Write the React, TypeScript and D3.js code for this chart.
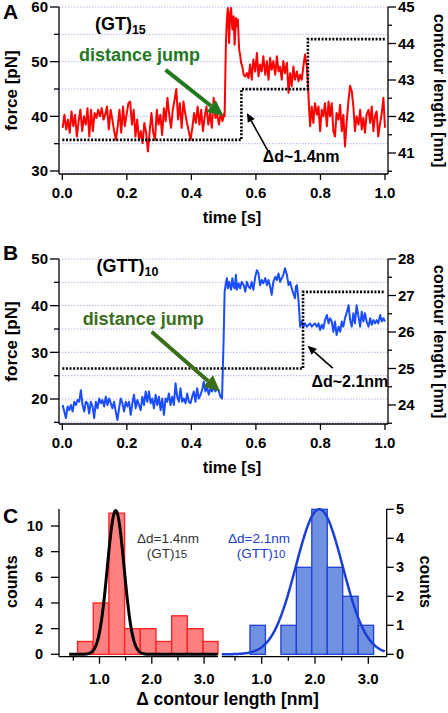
import React from 'react';
import * as d3 from 'd3';

const FONT = '"Liberation Sans", Arial, Helvetica, sans-serif';
const GRID = '#b4b4f0';

// ---------- shared ----------
const timeTicks = [0, 0.2, 0.4, 0.6, 0.8, 1.0];

// ---------- panel A : (GT)15 ----------
const forceTicksA = [30, 40, 50, 60];
const forceMinorA = [35, 45, 55];
const forceGridA = [30, 35, 40, 45, 50, 55, 60];
const contourTicksA = [41, 42, 43, 44, 45];
const contourMinorA = [40.5, 41.5, 42.5, 43.5, 44.5];
const forceA1Span = [0.001, 0.502];
const forceA1 = [
  37.9, 40.3, 37.6, 39.4, 37.0, 40.9, 38.2, 40.3, 36.3, 39.1,
  41.2, 37.3, 40.0, 38.5, 41.5, 36.3, 41.2, 37.3, 40.6, 39.7,
  41.2, 40.0, 41.5, 39.4, 40.3, 41.8, 37.6, 41.2, 39.4, 37.3,
  35.7, 38.2, 41.2, 37.0, 41.8, 38.2, 40.3, 42.4, 42.7, 38.5,
  41.2, 36.3, 39.4, 35.7, 37.3, 35.1, 38.8, 37.0, 33.6, 37.3,
  40.6, 37.0, 35.7, 41.2, 38.5, 40.3, 36.6, 41.5, 39.1, 43.4,
  40.3, 37.9, 41.2, 43.0, 45.0, 39.4, 42.4, 37.9, 42.7, 40.6,
  38.8, 37.3, 35.7, 37.9, 40.6, 38.8, 41.8, 38.5, 41.2, 37.3,
  40.0, 41.8, 38.5, 40.6, 37.9, 43.4, 39.7, 40.3, 38.5, 40.6,
  39.1, 40.6,
];
const forceA2: [number, number][] = [
  [0.503, 40.0], [0.507, 53.4], [0.510, 57.7], [0.513, 59.8], [0.517, 53.4], [0.520, 58.9], [0.523, 59.8],
  [0.527, 55.9], [0.531, 58.3], [0.534, 53.1], [0.538, 58.0], [0.541, 56.5], [0.544, 57.7], [0.548, 52.2],
  [0.551, 51.3], [0.554, 49.8], [0.558, 49.1], [0.562, 47.6], [0.567, 47.3], [0.572, 47.9], [0.577, 47.0],
  [0.582, 49.5], [0.587, 46.7], [0.592, 50.4], [0.598, 48.2], [0.603, 51.6], [0.608, 47.3], [0.613, 49.5],
  [0.618, 48.2], [0.623, 51.0], [0.629, 47.6], [0.634, 50.1], [0.639, 46.7], [0.644, 50.7], [0.649, 48.5],
  [0.654, 50.1], [0.660, 47.6], [0.665, 51.0], [0.670, 48.2], [0.675, 49.1], [0.680, 46.7], [0.685, 50.1],
  [0.690, 47.9], [0.696, 49.8], [0.701, 44.3], [0.706, 47.9], [0.711, 45.5], [0.716, 49.1], [0.721, 46.7],
  [0.727, 48.2], [0.732, 46.4], [0.737, 47.6], [0.742, 46.7], [0.747, 49.1], [0.752, 51.3], [0.758, 49.1],
  [0.761, 46.1], [0.765, 41.2], [0.768, 38.2], [0.773, 41.8], [0.778, 38.8], [0.783, 42.4], [0.789, 40.3],
  [0.794, 41.8], [0.799, 37.3], [0.804, 41.2], [0.809, 40.0], [0.814, 42.4], [0.820, 38.2], [0.825, 42.7],
  [0.830, 40.0], [0.835, 42.4], [0.840, 37.3], [0.845, 36.3], [0.850, 40.6], [0.856, 39.4], [0.861, 42.1],
  [0.866, 37.3], [0.871, 40.3], [0.876, 34.5], [0.881, 38.8], [0.887, 43.0], [0.892, 45.6], [0.897, 44.6],
  [0.902, 41.8], [0.907, 37.3], [0.912, 40.0], [0.918, 38.5], [0.923, 41.2], [0.928, 37.6], [0.933, 39.7],
  [0.938, 37.0], [0.943, 40.3], [0.949, 41.2], [0.954, 38.8], [0.959, 41.8], [0.964, 37.3], [0.969, 40.0],
  [0.974, 40.9], [0.979, 36.3], [0.985, 38.8], [0.990, 40.6], [0.995, 43.4], [1.000, 37.9],
];
const contourA: [number, number][] = [
  [0, 41.36], [0.555, 41.36], [0.555, 42.75], [0.761, 42.75], [0.761, 44.12], [1.0, 44.12],
];

// ---------- panel B : (GTT)10 ----------
const forceTicksB = [20, 30, 40, 50];
const forceMinorB = [15, 25, 35, 45];
const forceGridB = [15, 20, 25, 30, 35, 40, 45, 50];
const contourTicksB = [24, 25, 26, 27, 28];
const contourMinorB = [23.5, 24.5, 25.5, 26.5, 27.5];
const forceB1Span = [0.001, 0.495];
const forceB1 = [
  18.7, 17.3, 15.9, 18.4, 17.6, 18.7, 17.3, 19.4, 18.7, 19.8,
  19.4, 21.9, 18.7, 17.3, 19.4, 19.1, 16.9, 19.4, 18.4, 15.9,
  19.4, 18.0, 20.1, 19.1, 19.8, 18.4, 20.5, 18.7, 20.1, 19.1,
  18.0, 19.4, 17.3, 15.5, 18.0, 20.1, 19.1, 17.3, 19.4, 18.4,
  19.4, 16.6, 19.1, 20.9, 18.0, 19.8, 18.7, 17.6, 20.5, 18.7,
  21.6, 19.4, 21.6, 19.1, 20.1, 18.0, 20.9, 18.7, 20.5, 17.6,
  20.1, 16.6, 20.1, 19.4, 21.2, 18.7, 20.5, 18.7, 23.4, 20.5,
  19.4, 22.3, 19.4, 20.1, 19.1, 21.2, 19.4, 19.1, 20.5, 21.6,
  19.4, 22.3, 20.1, 20.9, 21.9, 23.7, 21.6, 22.6, 20.9, 22.3,
  21.6, 22.6, 21.6, 22.3, 21.9, 20.5, 20.1,
];
const forceB2: [number, number][] = [
  [0.500, 33.0], [0.503, 43.0], [0.507, 44.8], [0.510, 45.9], [0.513, 43.7], [0.517, 45.1], [0.520, 44.1],
  [0.523, 43.4], [0.527, 45.9], [0.531, 44.1], [0.534, 43.7], [0.538, 46.6], [0.541, 43.4], [0.546, 44.8],
  [0.551, 43.7], [0.556, 45.1], [0.562, 44.4], [0.567, 43.0], [0.572, 45.1], [0.577, 44.1], [0.582, 43.7],
  [0.587, 45.1], [0.592, 43.4], [0.598, 46.2], [0.603, 47.6], [0.608, 46.9], [0.613, 44.4], [0.618, 45.5],
  [0.623, 44.8], [0.629, 45.9], [0.634, 44.4], [0.639, 45.5], [0.644, 44.1], [0.649, 42.3], [0.654, 45.1],
  [0.660, 46.2], [0.665, 45.5], [0.670, 46.9], [0.675, 45.1], [0.680, 45.9], [0.685, 46.6], [0.690, 48.0],
  [0.696, 46.6], [0.701, 44.4], [0.706, 45.1], [0.711, 43.7], [0.716, 42.6], [0.721, 41.6], [0.724, 44.1],
  [0.727, 44.4], [0.732, 41.2], [0.735, 38.0], [0.737, 35.5], [0.742, 36.6], [0.747, 35.5], [0.752, 36.2],
  [0.758, 35.5], [0.763, 35.9], [0.768, 36.2], [0.773, 35.5], [0.778, 35.9], [0.783, 36.2], [0.789, 35.5],
  [0.794, 36.2], [0.799, 34.8], [0.804, 35.9], [0.809, 35.1], [0.814, 36.9], [0.820, 38.0], [0.825, 36.2],
  [0.830, 37.3], [0.835, 36.6], [0.840, 34.4], [0.845, 36.6], [0.850, 33.7], [0.856, 35.5], [0.861, 34.4],
  [0.866, 36.6], [0.871, 35.5], [0.876, 37.3], [0.881, 38.4], [0.887, 40.1], [0.892, 36.9], [0.897, 35.5],
  [0.902, 38.4], [0.907, 36.2], [0.912, 40.1], [0.918, 37.6], [0.923, 35.5], [0.928, 38.7], [0.933, 36.6],
  [0.938, 38.4], [0.943, 36.6], [0.949, 35.5], [0.954, 37.3], [0.959, 35.9], [0.964, 36.9], [0.969, 36.2],
  [0.974, 36.9], [0.979, 36.2], [0.985, 38.0], [0.990, 36.6], [0.995, 37.3], [1.000, 36.6],
];
const contourB: [number, number][] = [
  [0, 25.0], [0.746, 25.0], [0.746, 27.1], [1.0, 27.1],
];

// ---------- panel C : histograms ----------
const redBinStart = 0.58;
const redBinWidth = 0.3;
const redCounts = [1, 4, 11, 2, 2, 1, 3, 2, 1];
const blueBinStart = 0.78;
const blueBinWidth = 0.29;
const blueCounts = [1, 0, 1, 3, 5, 3, 2, 1];
const redFit = { mean: 1.31, sigma: 0.16, amp: 11.2, from: 0.42, to: 3.26 };
const blueFit = { mean: 2.08, sigma: 0.44, amp: 5.0, from: 0.25, to: 3.31 };
const countTicksLeft = [0, 2, 4, 6, 8, 10];
const countTicksRight = [0, 1, 2, 3, 4, 5];
const deltaMajor = [1.0, 2.0, 3.0];
const deltaMinor = [0.5, 1.5, 2.5];

// ---------- helpers ----------
function Arrow({ x1, y1, x2, y2, color, width, headLen, headW }: any) {
  const ang = Math.atan2(y2 - y1, x2 - x1);
  const bx = x2 - headLen * Math.cos(ang);
  const by = y2 - headLen * Math.sin(ang);
  const px = (-Math.sin(ang) * headW) / 2;
  const py = (Math.cos(ang) * headW) / 2;
  return (
    <g>
      <line x1={x1} y1={y1} x2={bx} y2={by} stroke={color} strokeWidth={width} />
      <polygon points={`${x2},${y2} ${bx + px},${by + py} ${bx - px},${by - py}`} fill={color} />
    </g>
  );
}

function TracePanel(p: any) {
  const x = d3.scaleLinear().domain([0, 1]).range([62.3, 385]);
  const yF = d3.scaleLinear().domain(p.fDom).range(p.fRange);
  const yC = d3.scaleLinear().domain(p.cDom).range(p.cRange);
  const axL = 59, axR = 388;
  const top = p.axTop, bot = p.axBottom;
  const n = p.seg1.length;
  const seg1 = p.seg1.map((f: number, i: number) => [
    p.seg1Span[0] + ((p.seg1Span[1] - p.seg1Span[0]) * i) / (n - 1), f,
  ]);
  const pts = [...seg1, ...p.seg2];
  const line = d3.line<any>().x((d) => x(d[0])).y((d) => yF(d[1]));
  const cline = d3.line<any>().x((d) => x(d[0])).y((d) => yC(d[1]));
  const tickF = d3.format('.1f');
  return (
    <g>
      {p.grid.map((g: number) => (
        <line key={'g' + g} x1={axL} x2={axR} y1={yF(g)} y2={yF(g)} stroke={GRID} strokeWidth={1} strokeDasharray="1.5,1.5" />
      ))}
      <path d={line(pts) || ''} fill="none" stroke={p.color} strokeWidth={2} strokeLinejoin="round" />
      <path d={cline(p.contour) || ''} fill="none" stroke="#000" strokeWidth={2.6} strokeDasharray="2,1.6" />
      {/* axes */}
      <line x1={axL} x2={axL} y1={top} y2={bot} stroke="#000" strokeWidth={1.3} />
      <line x1={axR} x2={axR} y1={top} y2={bot} stroke="#000" strokeWidth={1.3} />
      <line x1={axL} x2={axR} y1={bot} y2={bot} stroke="#000" strokeWidth={1.3} />
      {p.fTicks.map((t: number) => (
        <g key={'ft' + t}>
          <line x1={axL - 9} x2={axL} y1={yF(t)} y2={yF(t)} stroke="#000" strokeWidth={1.3} />
          <text x={48} y={yF(t) + 5.3} textAnchor="end" fontSize={15} fontWeight="bold" fontFamily={FONT}>{t}</text>
        </g>
      ))}
      {p.fMinor.map((t: number) => (
        <line key={'fm' + t} x1={axL - 5} x2={axL} y1={yF(t)} y2={yF(t)} stroke="#000" strokeWidth={1.3} />
      ))}
      {p.cTicks.map((t: number) => (
        <g key={'ct' + t}>
          <line x1={axR} x2={axR + 8} y1={yC(t)} y2={yC(t)} stroke="#000" strokeWidth={1.3} />
          <text x={398} y={yC(t) + 5.3} textAnchor="start" fontSize={15} fontWeight="bold" fontFamily={FONT}>{t}</text>
        </g>
      ))}
      {p.cMinor.filter((t: number) => yC(t) <= bot).map((t: number) => (
        <line key={'cm' + t} x1={axR} x2={axR + 4} y1={yC(t)} y2={yC(t)} stroke="#000" strokeWidth={1.3} />
      ))}
      {timeTicks.map((t) => (
        <g key={'tt' + t}>
          <line x1={x(t)} x2={x(t)} y1={bot} y2={bot + 6} stroke="#000" strokeWidth={1.3} />
          <text x={x(t)} y={bot + 24} textAnchor="middle" fontSize={15} fontWeight="bold" fontFamily={FONT}>{tickF(t)}</text>
        </g>
      ))}
      <text x={232} y={bot + 49} textAnchor="middle" fontSize={16.5} fontWeight="bold" fontFamily={FONT}>time [s]</text>
      <text transform={`translate(17,${(top + bot) / 2}) rotate(-90)`} textAnchor="middle" fontSize={17} fontWeight="bold" fontFamily={FONT}>force [pN]</text>
      <text transform={`translate(434,${(top + bot) / 2}) rotate(90)`} textAnchor="middle" fontSize={16.3} fontWeight="bold" fontFamily={FONT}>contour length [nm]</text>
      <text x={3} y={p.letterY} fontSize={21} fontWeight="bold" fontFamily={FONT}>{p.letter}</text>
      <text x={x(p.title.t)} y={yF(p.title.f)} fontSize={18} fontWeight="bold" fontFamily={FONT}>
        {p.title.main}
        <tspan fontSize={12.5} dy={4}>{p.title.sub}</tspan>
      </text>
      <text x={x(p.jump.t)} y={yF(p.jump.f)} fontSize={18} fontWeight="bold" fontFamily={FONT} fill={p.green}>distance jump</text>
      <Arrow x1={x(p.garrow[0])} y1={yF(p.garrow[1])} x2={x(p.garrow[2])} y2={yF(p.garrow[3])} color={p.green} width={4} headLen={16} headW={15} />
      <Arrow x1={x(p.barrow[0])} y1={yF(p.barrow[1])} x2={x(p.barrow[2])} y2={yF(p.barrow[3])} color="#000" width={1.6} headLen={9} headW={8} />
      <text x={x(p.delta.t)} y={yF(p.delta.f)} fontSize={16} fontWeight="bold" fontFamily={FONT}>{p.delta.label}</text>
    </g>
  );
}

function HistPanel() {
  const xL = d3.scaleLinear().domain([1, 2]).range([99.5, 151.8]);
  const xR = d3.scaleLinear().domain([1, 2]).range([261.7, 315]);
  const yL = d3.scaleLinear().domain([0, 10]).range([654.3, 526]);
  const yR = d3.scaleLinear().domain([0, 5]).range([654.3, 509.3]);
  const top = 509, bot = 656.7;
  const lLeft = 59, lRight = 218, rLeft = 221.7, rRight = 386.7;
  const gauss = (f: any) => (v: number) => f.amp * Math.exp(-((v - f.mean) ** 2) / (2 * f.sigma ** 2));
  const redPts = d3.range(redFit.from, redFit.to + 1e-9, 0.01).map((v) => [v, gauss(redFit)(v)]);
  const bluePts = d3.range(blueFit.from, blueFit.to + 1e-9, 0.01).map((v) => [v, gauss(blueFit)(v)]);
  const lineL = d3.line<any>().x((d) => xL(d[0])).y((d) => yL(d[1]));
  const lineR = d3.line<any>().x((d) => xR(d[0])).y((d) => yR(d[1]));
  const xMaxL = xL.invert(lRight);
  return (
    <g>
      {redCounts.map((c, i) => {
        const a = redBinStart + i * redBinWidth;
        const b = Math.min(a + redBinWidth, xMaxL);
        return <rect key={'r' + i} x={xL(a)} y={yL(c)} width={xL(b) - xL(a)} height={yL(0) - yL(c)} fill="#ff8080" stroke="#ff2020" strokeWidth={1.3} />;
      })}
      {blueCounts.map((c, i) => {
        if (c === 0) return null;
        const a = blueBinStart + i * blueBinWidth;
        return <rect key={'b' + i} x={xR(a)} y={yR(c)} width={xR(a + blueBinWidth) - xR(a)} height={yR(0) - yR(c)} fill="#7090e0" stroke="#1f40d8" strokeWidth={1.3} />;
      })}
      <path d={lineL(redPts) || ''} fill="none" stroke="#000" strokeWidth={3} />
      <path d={lineR(bluePts) || ''} fill="none" stroke="#1a3fd6" strokeWidth={2.5} />
      {/* axes */}
      <line x1={lLeft} x2={lLeft} y1={top} y2={bot} stroke="#000" strokeWidth={1.3} />
      <line x1={lLeft} x2={lRight} y1={bot} y2={bot} stroke="#000" strokeWidth={1.3} />
      <line x1={rLeft} x2={rRight} y1={bot} y2={bot} stroke="#000" strokeWidth={1.3} />
      <line x1={rRight} x2={rRight} y1={top} y2={bot} stroke="#000" strokeWidth={1.3} />
      {countTicksLeft.map((t) => (
        <g key={'cl' + t}>
          <line x1={lLeft - 8} x2={lLeft} y1={yL(t)} y2={yL(t)} stroke="#000" strokeWidth={1.3} />
          <text x={43} y={yL(t) + 5} textAnchor="end" fontSize={14.5} fontWeight="bold" fontFamily={FONT}>{t}</text>
        </g>
      ))}
      {countTicksRight.map((t) => (
        <g key={'cr' + t}>
          <line x1={rRight} x2={rRight + 7} y1={yR(t)} y2={yR(t)} stroke="#000" strokeWidth={1.3} />
          <text x={396} y={yR(t) + 5} textAnchor="start" fontSize={14.5} fontWeight="bold" fontFamily={FONT}>{t}</text>
        </g>
      ))}
      {[xL, xR].map((sc, k) => (
        <g key={'ax' + k}>
          {deltaMajor.map((t) => (
            <g key={'dm' + t}>
              <line x1={sc(t)} x2={sc(t)} y1={bot} y2={bot + 7} stroke="#000" strokeWidth={1.3} />
              <text x={sc(t)} y={bot + 27} textAnchor="middle" fontSize={15} fontWeight="bold" fontFamily={FONT}>{t.toFixed(1)}</text>
            </g>
          ))}
          {deltaMinor.map((t) => (
            <line key={'dn' + t} x1={sc(t)} x2={sc(t)} y1={bot} y2={bot + 4} stroke="#000" strokeWidth={1.3} />
          ))}
        </g>
      ))}
      <text x={227.5} y={705} textAnchor="middle" fontSize={17.5} fontWeight="bold" fontFamily={FONT}>Δ contour length [nm]</text>
      <text transform="translate(17,581.7) rotate(-90)" textAnchor="middle" fontSize={16} fontWeight="bold" fontFamily={FONT}>counts</text>
      <text transform="translate(420,581.7) rotate(90)" textAnchor="middle" fontSize={16} fontWeight="bold" fontFamily={FONT}>counts</text>
      <text x={3} y={523} fontSize={21} fontWeight="bold" fontFamily={FONT}>C</text>
      <text x={137} y={543} fontSize={13.5} fontFamily={FONT} fill="#333">Δd=1.4nm</text>
      <text x={146.7} y={558} fontSize={13.5} fontFamily={FONT} fill="#333">(GT)<tspan fontSize={11.5}>15</tspan></text>
      <text x={228} y={543} fontSize={13.5} fontFamily={FONT} fill="#2040c8">Δd=2.1nm</text>
      <text x={236.7} y={558} fontSize={13.5} fontFamily={FONT} fill="#2040c8">(GTT)<tspan fontSize={11.5}>10</tspan></text>
    </g>
  );
}

export default function App() {
  return (
    <svg width={448} height={713} style={{ position: 'absolute', left: 0, top: 0, background: '#fff' }}>
      <rect x={0} y={0} width={448} height={713} fill="#fff" />
      <TracePanel
        fDom={[30, 60]} fRange={[171, 7]} cDom={[41, 45]} cRange={[153, 7]}
        axTop={7} axBottom={174}
        grid={forceGridA} fTicks={forceTicksA} fMinor={forceMinorA} cTicks={contourTicksA} cMinor={contourMinorA}
        seg1={forceA1} seg1Span={forceA1Span} seg2={forceA2} contour={contourA}
        color="#ff0000" green="#23781f" letter="A" letterY={19}
        title={{ main: '(GT)', sub: '15', t: 0.101, f: 55.8 }}
        jump={{ t: 0.052, f: 50.1 }}
        garrow={[0.32, 48.5, 0.50, 40.06]}
        barrow={[0.636, 33.8, 0.572, 40.6]}
        delta={{ t: 0.621, f: 31.7, label: 'Δd~1.4nm' }}
      />
      <TracePanel
        fDom={[20, 50]} fRange={[399, 259]} cDom={[24, 28]} cRange={[405, 259]}
        axTop={259} axBottom={424}
        grid={forceGridB} fTicks={forceTicksB} fMinor={forceMinorB} cTicks={contourTicksB} cMinor={contourMinorB}
        seg1={forceB1} seg1Span={forceB1Span} seg2={forceB2} contour={contourB}
        color="#1a4dff" green="#3a6e1c" letter="B" letterY={260}
        title={{ main: '(GTT)', sub: '10', t: 0.106, f: 47.3 }}
        jump={{ t: 0.063, f: 35.9 }}
        garrow={[0.277, 34.4, 0.489, 21.6]}
        barrow={[0.838, 26.6, 0.76, 31.4]}
        delta={{ t: 0.772, f: 22.6, label: 'Δd~2.1nm' }}
      />
      <HistPanel />
    </svg>
  );
}
